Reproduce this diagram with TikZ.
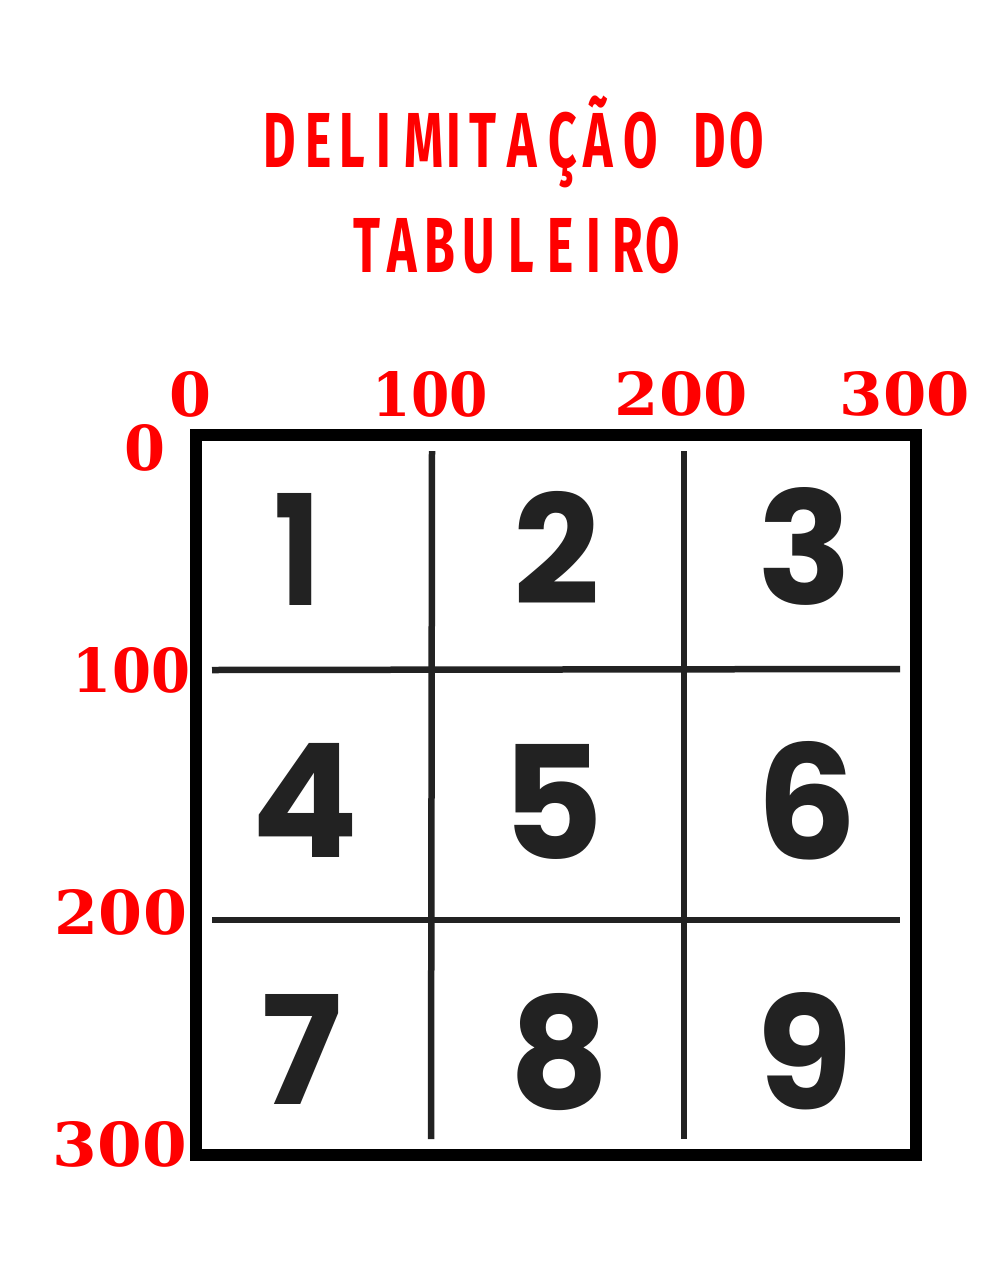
\documentclass[tikz,border=0pt]{standalone}
\usepackage{fontspec}
\setmainfont{Fira Sans}
\newfontfamily\titlefont{Fira Sans}[FakeStretch=0.64]
\newfontfamily\numfont{Poppins}
\newfontfamily\axisfont{DejaVu Serif}
\definecolor{titlered}{HTML}{FF0000}
\definecolor{ink}{HTML}{222222}
\begin{document}
\begin{tikzpicture}[x=1pt,y=-1pt,
  titlechar/.style={anchor=base, inner sep=0pt, text=titlered,
    font=\titlefont\bfseries\fontsize{78}{78}\selectfont},
  digit/.style={inner sep=0pt, text=ink, font=\numfont\bfseries},
  axislabel/.style={inner sep=0pt, text=titlered, font=\axisfont\bfseries},
  frame/.style={draw=black, line width=11.5pt},
  gridline/.style={draw=ink, line width=6.5pt}]
\useasboundingbox[fill=white] (0,0) rectangle (995,1280);

% title
\foreach \ch/\cx [count=\i] in {D/280,E/319,L/352,I/384,M/424,I/454,T/483,A/522,Ç/563,Ã/598,O/641,D/710,O/747}
  \node[titlechar] (ta\i) at (\cx,167) {\ch};
\foreach \ch/\cx [count=\i] in {T/367,A/402,B/440,U/479,L/521,E/561,I/594,R/628,O/663}
  \node[titlechar] (tb\i) at (\cx,272) {\ch};

% board frame
\coordinate (fTL) at (196,435);
\coordinate (fBR) at (916,1155);
\draw[frame] (fTL) rectangle (fBR);

% grid lines
\coordinate (v1t) at (432,451);  \coordinate (v1b) at (431,1139);
\coordinate (v2t) at (684,451);  \coordinate (v2b) at (684,1139);
\coordinate (h1l) at (212,670);  \coordinate (h1r) at (900,669);
\coordinate (h2l) at (212,920);  \coordinate (h2r) at (900,920);
\draw[gridline] (v1t) -- (v1b);
\draw[gridline] (v2t) -- (v2b);
\draw[gridline] (h1l) -- (h1r);
\draw[gridline] (h2l) -- (h2r);

% cell numbers
\node[digit] (n1) at (298,549) {\resizebox{46pt}{112pt}{1}};
\node[digit] (n2) at (557,548) {\resizebox{!}{113pt}{2}};
\node[digit] (n3) at (805,546) {\resizebox{!}{117pt}{3}};
\node[digit] (n4) at (305,800) {\resizebox{!}{114pt}{4}};
\node[digit] (n5) at (553,802) {\resizebox{!}{115pt}{5}};
\node[digit] (n6) at (807,801) {\resizebox{!}{118pt}{6}};
\node[digit] (n7) at (302,1049) {\resizebox{!}{110pt}{7}};
\node[digit] (n8) at (560,1052) {\resizebox{!}{115pt}{8}};
\node[digit] (n9) at (805,1051) {\resizebox{!}{117pt}{9}};

% axis labels (top)
\node[axislabel] (x0)   at (191,394)   {\resizebox{42pt}{45pt}{0}};
\node[axislabel] (x100) at (430.5,394) {\resizebox{115pt}{45pt}{100}};
\node[axislabel] (x200) at (681.5,394) {\resizebox{133pt}{44pt}{200}};
\node[axislabel] (x300) at (905,394)   {\resizebox{130pt}{44pt}{300}};
% axis labels (left)
\node[axislabel] (y0)   at (145.5,447.5) {\resizebox{41pt}{46pt}{0}};
\node[axislabel] (y100) at (131.5,670.5) {\resizebox{117pt}{45pt}{100}};
\node[axislabel] (y200) at (121,912.5)   {\resizebox{132pt}{45pt}{200}};
\node[axislabel] (y300) at (120,1144.5)  {\resizebox{134pt}{45pt}{300}};
\end{tikzpicture}
\end{document}
